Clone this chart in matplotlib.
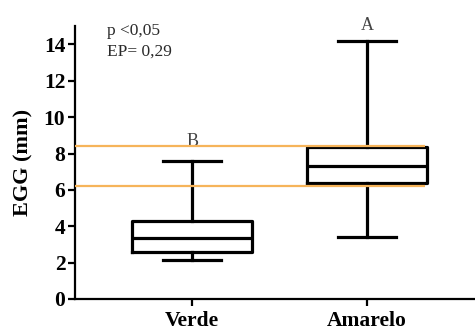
import matplotlib
matplotlib.use("Agg")
import matplotlib.pyplot as plt

categories = ["Verde", "Amarelo"]
whislo = [2.14, 3.39]
q1 = [2.58, 6.39]
med = [3.37, 7.32]
q3 = [4.30, 8.37]
whishi = [7.58, 14.17]
letters = ["B", "A"]
ref_lines = [8.42, 6.22]
yticks = [0, 2, 4, 6, 8, 10, 12, 14]

plt.rcParams['font.family'] = ['Liberation Serif', 'DejaVu Serif']

fig = plt.figure(figsize=(4.75, 3.31), dpi=100)
ax = fig.add_axes([0.158, 0.0967, 0.842, 0.824])

stats = []
for i in range(len(categories)):
    stats.append(dict(label=categories[i], whislo=whislo[i], q1=q1[i], med=med[i],
                      q3=q3[i], whishi=whishi[i], fliers=[]))

pos = [1, 2]
lw = 2.3
ax.bxp(stats, positions=pos, widths=0.685, showfliers=False,
       boxprops=dict(color='black', linewidth=lw),
       medianprops=dict(color='black', linewidth=lw),
       whiskerprops=dict(color='black', linewidth=lw),
       capprops=dict(color='black', linewidth=lw),
       capwidths=0.33, zorder=2)

for y in ref_lines:
    ax.hlines(y, 0.331, 2.33, colors='#F6B45A', linewidth=1.6, zorder=3)

ax.text(1, 8.64, letters[0], ha='center', va='center', fontsize=13, color='#444444', zorder=1)
ax.text(2, 15.05, letters[1], ha='center', va='center', fontsize=13, color='#444444', clip_on=False)

ax.text(0.515, 14.75, "p <0,05", ha='left', va='center', fontsize=12.5, color='#2a2a2a')
ax.text(0.515, 13.6, "EP= 0,29", ha='left', va='center', fontsize=12.5, color='#2a2a2a')

ax.set_xlim(0.331, 2.617)
ax.set_ylim(0, 15)
ax.set_yticks(yticks)
ax.set_yticklabels([str(t) for t in yticks], fontweight='bold', fontsize=15.5)
ax.set_xticks(pos)
ax.set_xticklabels(categories, fontweight='bold', fontsize=15.5)
ax.set_ylabel("EGG (mm)", fontweight='bold', fontsize=16, labelpad=7)

for s in ['top', 'right']:
    ax.spines[s].set_visible(False)
for s in ['left', 'bottom']:
    ax.spines[s].set_linewidth(1.6)
ax.tick_params(axis='both', width=1.6, length=5, direction='out', pad=2)
ax.tick_params(axis='x', pad=3.5)

fig.savefig("out.png", dpi=100)
